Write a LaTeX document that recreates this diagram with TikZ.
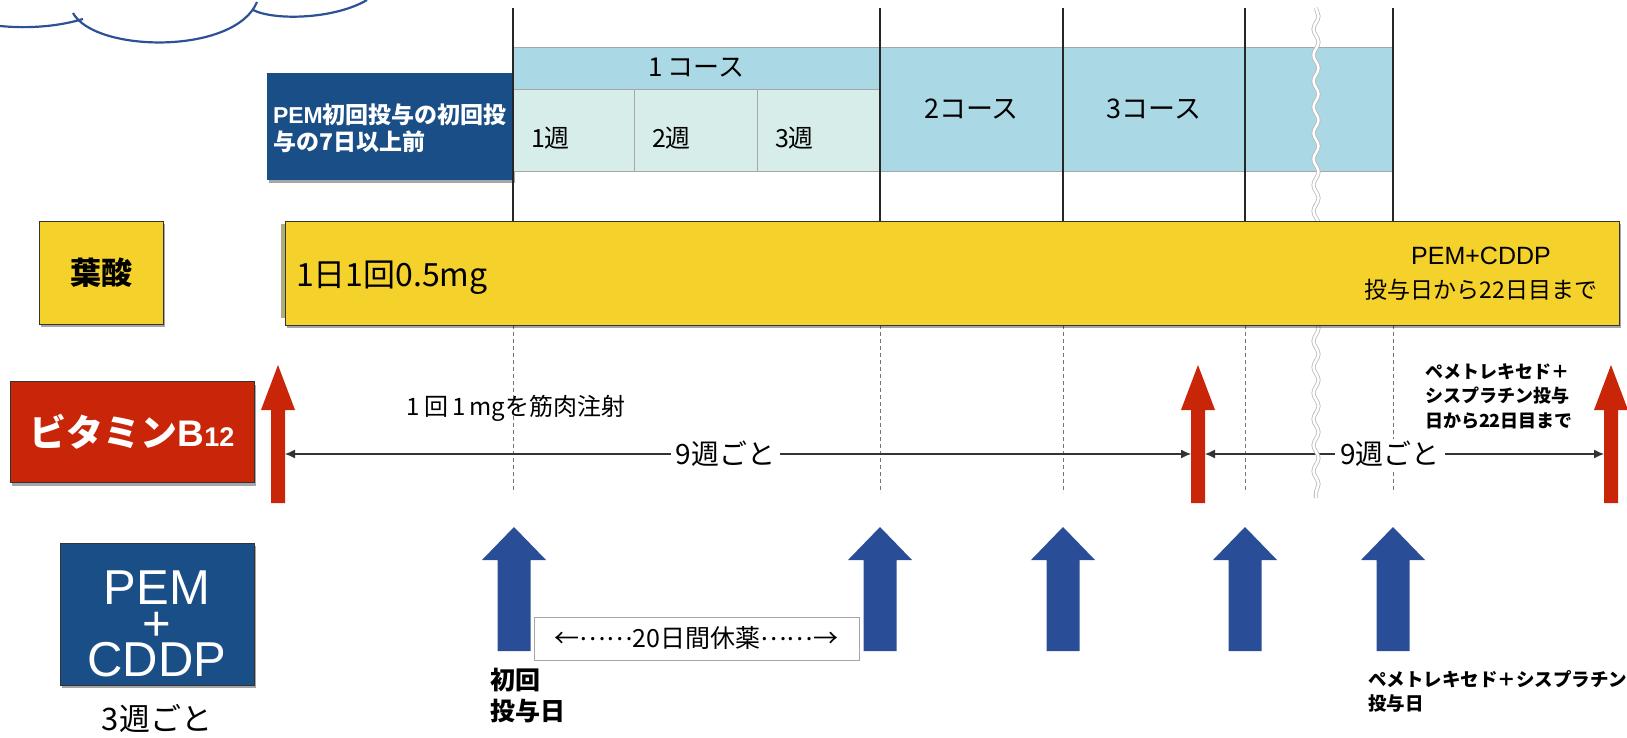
\documentclass[tikz,border=0pt]{standalone}
\usepackage{fontspec}
\setmainfont{Noto Sans CJK JP}
\newfontfamily\latfont{Liberation Sans}
\usetikzlibrary{decorations.pathmorphing,shadows,arrows.meta}
\definecolor{folY}{HTML}{F4D12B}
\definecolor{vbRed}{HTML}{C92508}
\definecolor{navy}{HTML}{1A4E86}
\definecolor{arrBlue}{HTML}{294E97}
\definecolor{bandBlue}{HTML}{ABD8E5}
\definecolor{cellPale}{HTML}{D6EDEA}
\definecolor{cloudBlue}{HTML}{2D5196}
\newcommand\fsz[2]{\fontsize{#1}{#2}\selectfont}
\tikzset{
  every node/.style={inner sep=0pt, outer sep=0pt},
  cloudline/.style={draw=cloudBlue, line width=2.2pt},
  cellbox/.style={draw=gray!70, line width=0.6pt, anchor=north west},
  shadowed/.style={drop shadow={shadow xshift=2pt, shadow yshift=-3pt, opacity=0.35, fill=black}},
  framed/.style={draw=black!80, line width=1pt},
  guide/.style={draw=black!85},
  guidedash/.style={draw=black!55, line width=0.9pt, dash pattern=on 4pt off 3pt},
  dimline/.style={draw=black!80, line width=1.1pt, {Latex[length=10pt,width=9pt]}-{Latex[length=10pt,width=9pt]}},
  dimlabel/.style={fill=white, inner xsep=5pt, inner ysep=2pt, font=\fsz{28}{30}},
  wavy/.style={draw=gray!55, line width=0.8pt, double=white, double distance=2.5pt, decorate, decoration={snake, segment length=26pt, amplitude=2.5pt}},
  pics/redup/.style={code={
    \fill[vbRed] (-7,0) -- (-7,-93) -- (-17,-93) -- (0,-138) -- (17,-93) -- (7,-93) -- (7,0) -- cycle;
    \coordinate (-L) at (-7,-49);
    \coordinate (-R) at (7,-49);
  }},
  pics/blueup/.style={code={
    \fill[arrBlue] (-16.5,0) -- (-16.5,-91) -- (-32,-91) -- (0,-124) -- (32,-91) -- (16.5,-91) -- (16.5,0) -- cycle;
    \coordinate (-L) at (-16.5,-12.5);
    \coordinate (-R) at (16.5,-12.5);
  }}
}
\begin{document}
\begin{tikzpicture}[x=1pt,y=-1pt]
\useasboundingbox (0,0) rectangle (1627,738);

% cloud fragment
\draw[cloudline] (0,26) .. controls (30,29) and (60,26) .. (83,19);
\draw[cloudline] (73,13) .. controls (95,53) and (235,55) .. (257,2);
\draw[cloudline] (253,10) .. controls (275,21) and (335,19) .. (367,0);

% pre-treatment box
\node[fill=navy, shadowed, anchor=north west, minimum width=246, minimum height=107] (pre) at (267,73) {};
\node[anchor=west, text=white, align=left, font=\bfseries\fsz{23}{27}] (pret) at (273,128) {{\latfont PEM}初回投与の初回投\\与の7日以上前};

% course band
\node[cellbox, fill=bandBlue, minimum width=367, minimum height=42, font=\fsz{26}{28}] (c1h) at (513,47) {1\,コース};
\node[cellbox, fill=cellPale, minimum width=121, minimum height=82] (w1) at (513,89) {};
\node[cellbox, fill=cellPale, minimum width=123, minimum height=82] (w2) at (634,89) {};
\node[cellbox, fill=cellPale, minimum width=123, minimum height=82] (w3) at (757,89) {};
\node[cellbox, fill=bandBlue, minimum width=183, minimum height=124, font=\fsz{27}{28}] (c2) at (880,47) {2コース};
\node[cellbox, fill=bandBlue, minimum width=182, minimum height=124, font=\fsz{27}{28}] (c3) at (1063,47) {3コース};
\node[cellbox, fill=bandBlue, minimum width=148, minimum height=124] (c4) at (1245,47) {};
\node[anchor=west, font=\fsz{25}{28}] (w1t) at ([xshift=18pt,yshift=-8pt]w1.west) {1週};
\node[anchor=west, font=\fsz{25}{28}] (w2t) at ([xshift=18pt,yshift=-8pt]w2.west) {2週};
\node[anchor=west, font=\fsz{25}{28}] (w3t) at ([xshift=18pt,yshift=-8pt]w3.west) {3週};

% guide lines
\foreach \i/\x/\w in {1/513/1.4,2/880/1.2,3/1063/1.2,4/1245/2.2,5/1393/1.2}{
  \coordinate (gt\i) at (\x,8);
  \coordinate (gm\i) at (\x,221);
  \coordinate (gd\i) at (\x,325);
  \coordinate (ge\i) at (\x,493);
  \draw[guide, line width=\w pt] (gt\i) -- (gm\i);
  \draw[guidedash] (gd\i) -- (ge\i);
}

% vitamin B12 arrows
\pic (ra1) at (278,503) {redup};
\pic (ra2) at (1198,503) {redup};
\pic (ra3) at (1611,503) {redup};
\draw[dimline] (ra1-R) -- node[pos=0.486, dimlabel] (n9a) {9週ごと} (ra2-L);
\draw[dimline] (ra2-R) -- node[pos=0.464, dimlabel] (n9b) {9週ごと} (ra3-L);

% break mark
\coordinate (wt) at (1316,8);
\coordinate (wb) at (1316,498);
\draw[wavy] (wt) -- (wb);

% folic acid bar
\fill[gray!55!olive!70] (281,224) rectangle (286,318);
\node[framed, fill=folY, shadowed, anchor=north west, minimum width=1334, minimum height=104] (bar) at (285,221) {};
\node[anchor=west, font=\fsz{32}{36}] (dose) at (296,278) {1日1回0.5mg};
\node[align=center, font=\fsz{23}{34}] (barr) at (1481,274) {{\latfont\fsz{25}{34}PEM+CDDP}\\投与日から22日目まで};

% left labels
\node[framed, fill=folY, shadowed, minimum width=124, minimum height=103, font=\bfseries\fsz{31}{36}] (folic) at (101,272.5) {葉酸};
\node[framed, fill=vbRed, shadowed, minimum width=244, minimum height=101, text=white, font=\bfseries\fsz{37}{44}] (vb) at (132,432) {ビタミン{\latfont B\fsz{27}{30}12}};
\node[framed, fill=navy, shadowed, minimum width=194, minimum height=142] (pc) at (157,614) {};
\node[text=white, align=center, font=\latfont\fsz{49}{36}] (pct) at (157,624) {PEM\\+\\CDDP};
\node[font=\fsz{31}{34}] (wk3) at (157,719) {3週ごと};

% PEM + CDDP arrows
\pic (ba1) at (514,651) {blueup};
\pic (ba2) at (880,651) {blueup};
\pic (ba3) at (1063,651) {blueup};
\pic (ba4) at (1245,651) {blueup};
\pic (ba5) at (1393,651) {blueup};
\node[draw=gray!70, line width=0.8pt, fill=white, minimum width=325, minimum height=43, font=\fsz{25}{28}] (rest) at (696.5,638.5) {←\raisebox{0.3em}{……}20日間休薬\raisebox{0.3em}{……}→};

% annotations
\node[font=\fsz{24}{28}] (im) at (516,408) {1\,回\,1\,mgを筋肉注射};
\node[anchor=west, align=left, font=\bfseries\fsz{18}{24.5}] (vbnote) at (1425,396) {ペメトレキセド＋\\シスプラチン投与\\日から22日目まで};
\node[anchor=west, align=left, font=\bfseries\fsz{25}{31}] (first) at (490,695.5) {初回\\投与日};
\node[anchor=west, align=left, font=\bfseries\fsz{18.5}{23.5}] (pcday) at (1368,691.5) {ペメトレキセド＋シスプラチン\\投与日};
\end{tikzpicture}
\end{document}
